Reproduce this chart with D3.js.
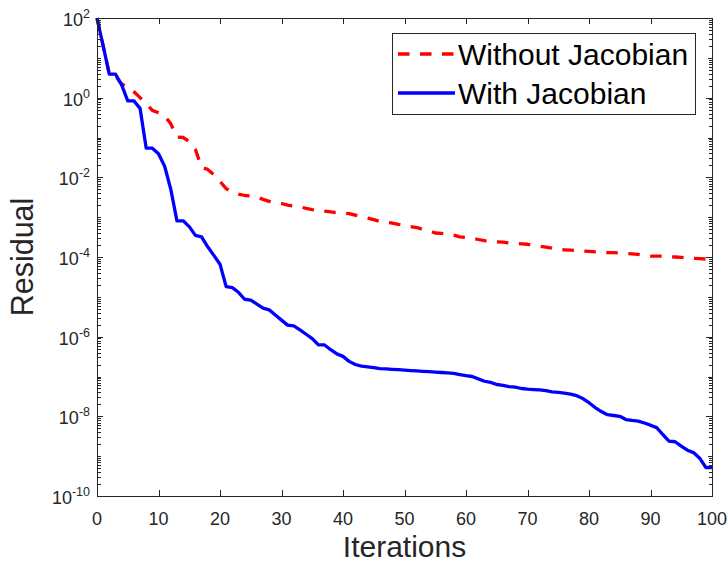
<!DOCTYPE html>
<html><head><meta charset="utf-8">
<script src="https://cdn.jsdelivr.net/npm/d3@7"></script>
<style>
html,body{margin:0;padding:0;background:#fff;}
svg{display:block;font-family:"Liberation Sans",Arial,Helvetica,sans-serif;}
</style></head>
<body><svg id="chart" width="728" height="563"></svg>
<script>
// ---- data ----
const seriesNames = ["Without Jacobian", "With Jacobian"];
const withoutJacobian = [
 1e2,2.0e1,3.9,3.5,2.2,1.86,1.41,1.0,0.71,0.48,
 0.42,0.35,0.22,0.102,0.1,0.079,0.050,0.0178,0.0158,0.0117,
 7.9e-3,5.2e-3,4.3e-3,3.8e-3,3.5e-3,3.4e-3,3.2e-3,2.8e-3,2.5e-3,2.3e-3,
 2.2e-3,2.0e-3,1.9e-3,1.82e-3,1.66e-3,1.55e-3,1.48e-3,1.41e-3,1.35e-3,1.29e-3,
 1.26e-3,1.23e-3,1.12e-3,1.02e-3,9.5e-4,8.7e-4,7.8e-4,7.4e-4,7.1e-4,6.6e-4,
 6.3e-4,5.8e-4,5.5e-4,4.9e-4,4.5e-4,4.0e-4,3.9e-4,3.8e-4,3.55e-4,3.2e-4,
 3.1e-4,2.95e-4,2.75e-4,2.57e-4,2.4e-4,2.4e-4,2.35e-4,2.24e-4,2.19e-4,2.14e-4,
 2.09e-4,1.95e-4,1.86e-4,1.78e-4,1.66e-4,1.55e-4,1.51e-4,1.48e-4,1.45e-4,1.41e-4,
 1.38e-4,1.35e-4,1.32e-4,1.29e-4,1.29e-4,1.26e-4,1.23e-4,1.20e-4,1.17e-4,1.10e-4,
 1.05e-4,1.05e-4,1.05e-4,1.02e-4,1.0e-4,9.8e-5,9.5e-5,9.3e-5,9.1e-5,8.9e-5,
 8.9e-5
];
const withJacobian = [
 1e2,2.0e1,3.9,3.9,2.1,0.83,0.83,0.54,5.4e-2,5.4e-2,
 3.9e-2,1.9e-2,5.0e-3,8.1e-4,8.1e-4,5.8e-4,3.5e-4,3.2e-4,1.8e-4,1.1e-4,
 6.6e-5,1.8e-5,1.7e-5,1.3e-5,8.7e-6,8.3e-6,6.6e-6,5.2e-6,4.7e-6,3.5e-6,
 2.6e-6,1.95e-6,1.86e-6,1.48e-6,1.15e-6,8.9e-7,6.2e-7,6.2e-7,4.7e-7,3.7e-7,
 3.2e-7,2.4e-7,2.0e-7,1.82e-7,1.74e-7,1.66e-7,1.58e-7,1.55e-7,1.51e-7,1.48e-7,
 1.45e-7,1.41e-7,1.38e-7,1.35e-7,1.32e-7,1.29e-7,1.26e-7,1.23e-7,1.20e-7,1.12e-7,
 1.05e-7,1.0e-7,8.7e-8,7.6e-8,7.1e-8,6.3e-8,6.0e-8,5.6e-8,5.4e-8,5.0e-8,
 4.8e-8,4.7e-8,4.6e-8,4.4e-8,4.1e-8,4.0e-8,3.8e-8,3.6e-8,3.3e-8,2.8e-8,
 2.2e-8,1.66e-8,1.32e-8,1.10e-8,1.05e-8,1.0e-8,8.3e-9,7.9e-9,7.6e-9,6.8e-9,
 6.0e-9,5.2e-9,3.5e-9,2.4e-9,2.3e-9,1.78e-9,1.41e-9,1.23e-9,8.9e-10,5.2e-10,
 5.2e-10
];
const xTicks = [0,10,20,30,40,50,60,70,80,90,100];
const yTickExponents = [2,0,-2,-4,-6,-8,-10];
const xLabel = "Iterations";
const yLabel = "Residual";

// ---- layout ----
const L = 97, R = 712, T = 18, B = 496;
const axisColor = "#262626";
const svg = d3.select("#chart");

const x = d3.scaleLinear().domain([0,100]).range([L,R]);
const y = d3.scaleLog().domain([1e-10,1e2]).range([B,T]);

const minorVals = [];
for (let e=-10; e<2; e++) for (let m=2; m<=9; m++) minorVals.push(m*Math.pow(10,e));

const g = svg.append("g");
const line = d3.line().x((d,i)=>x(i)).y(d=>y(d));
g.append("path").datum(withoutJacobian)
  .attr("d", line).attr("fill","none").attr("stroke","#ff0000")
  .attr("stroke-width",3.3).attr("stroke-dasharray","11.5,10.5").attr("stroke-linejoin","round");
g.append("path").datum(withJacobian)
  .attr("d", line).attr("fill","none").attr("stroke","#0000ff")
  .attr("stroke-width",3.3).attr("stroke-linejoin","round");

const ax = svg.append("g").attr("stroke",axisColor).attr("stroke-width",1).attr("fill","none").attr("shape-rendering","crispEdges");
ax.append("rect").attr("x",L).attr("y",T).attr("width",R-L).attr("height",B-T);

xTicks.forEach(v=>{
  const px = Math.round(x(v))+0.5;
  ax.append("line").attr("x1",px).attr("x2",px).attr("y1",B).attr("y2",B-6);
  ax.append("line").attr("x1",px).attr("x2",px).attr("y1",T).attr("y2",T+6);
});
yTickExponents.forEach(e=>{
  const py = Math.round(y(Math.pow(10,e)))+0.5;
  ax.append("line").attr("x1",L).attr("x2",L+6).attr("y1",py).attr("y2",py);
  ax.append("line").attr("x1",R).attr("x2",R-6).attr("y1",py).attr("y2",py);
});
for (let e=-9; e<2; e+=2) {
  const py = Math.round(y(Math.pow(10,e)))+0.5;
  ax.append("line").attr("x1",L).attr("x2",L+4).attr("y1",py).attr("y2",py);
  ax.append("line").attr("x1",R).attr("x2",R-4).attr("y1",py).attr("y2",py);
}
minorVals.forEach(v=>{
  const py = Math.round(y(v))+0.5;
  ax.append("line").attr("x1",L).attr("x2",L+3.5).attr("y1",py).attr("y2",py);
  ax.append("line").attr("x1",R).attr("x2",R-3.5).attr("y1",py).attr("y2",py);
});

const tl = svg.append("g").attr("fill",axisColor).attr("font-size","18px");
xTicks.forEach(v=>{
  tl.append("text").attr("x",x(v)).attr("y",525).attr("text-anchor","middle").text(v);
});
yTickExponents.forEach(e=>{
  const py = y(Math.pow(10,e));
  const t = tl.append("text").attr("x",90).attr("y",py+8).attr("text-anchor","end");
  t.append("tspan").text("10");
  t.append("tspan").attr("font-size","12.5px").attr("dy",-8).text(e<0 ? "-"+(-e) : e);
});

svg.append("text").attr("x",(L+R)/2).attr("y",557).attr("text-anchor","middle")
  .attr("font-size","30px").attr("fill",axisColor).text(xLabel);
svg.append("text").attr("transform",`translate(33,${(T+B)/2}) rotate(-90)`)
  .attr("text-anchor","middle").attr("font-size","30.5px").attr("fill",axisColor).text(yLabel);

const lg = svg.append("g");
lg.append("rect").attr("x",392.5).attr("y",33.5).attr("width",303).attr("height",81)
  .attr("fill","#fff").attr("stroke",axisColor).attr("stroke-width",1);
const legendItems = [
  {name: seriesNames[0], color:"#ff0000", dash:"11.5,10.5", yy:54},
  {name: seriesNames[1], color:"#0000ff", dash:null, yy:93}
];
legendItems.forEach(it=>{
  const l = lg.append("line").attr("x1",398).attr("x2",455).attr("y1",it.yy).attr("y2",it.yy)
    .attr("stroke",it.color).attr("stroke-width",3.3);
  if (it.dash) l.attr("stroke-dasharray",it.dash);
  lg.append("text").attr("x",458).attr("y",it.yy+10.5).attr("font-size","30px").attr("fill","#000").text(it.name);
});
</script>
</body></html>
